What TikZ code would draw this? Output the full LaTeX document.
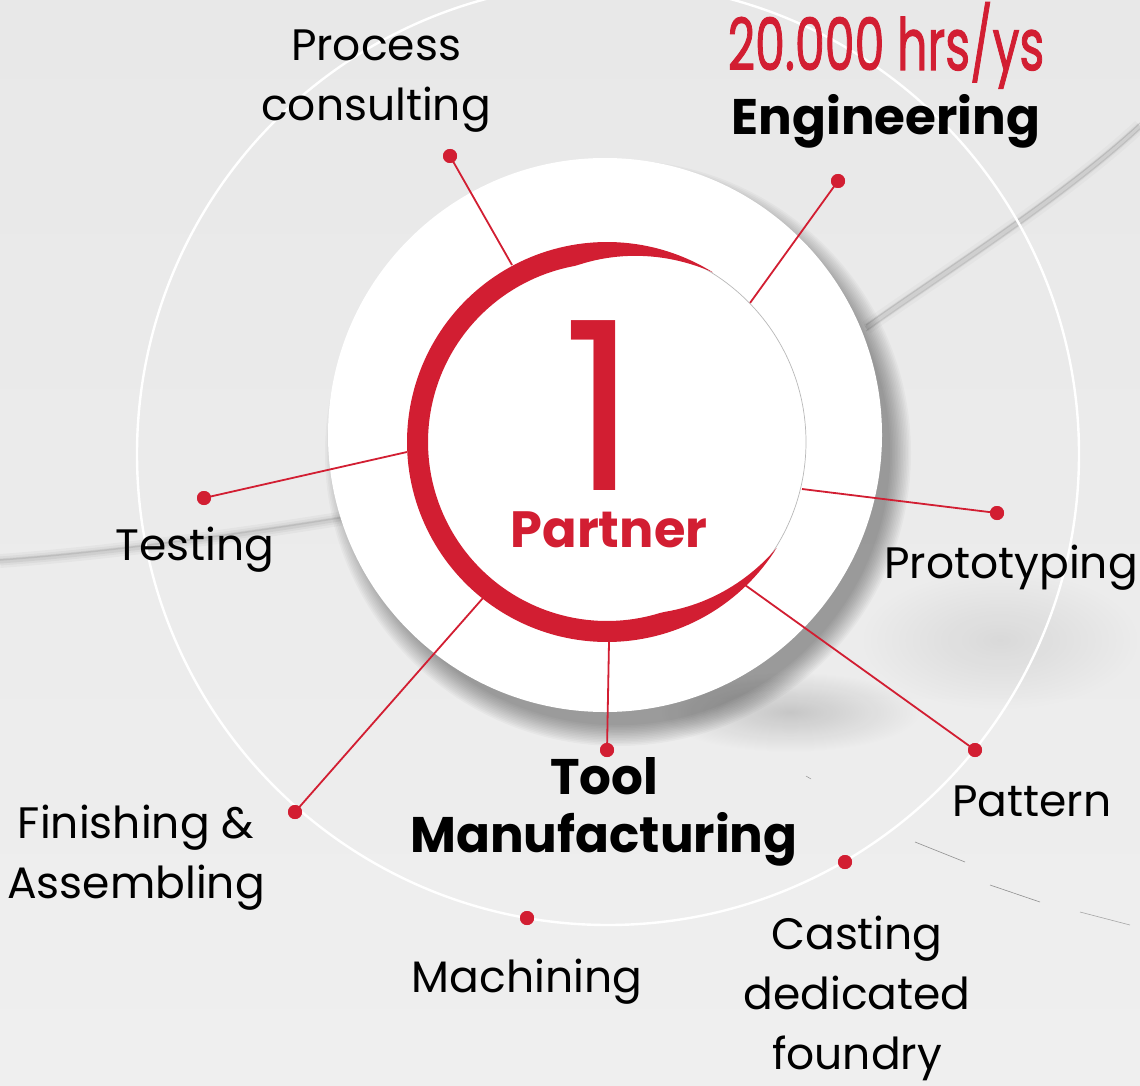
\documentclass[tikz,border=0pt]{standalone}
\usepackage{fontspec}
\setmainfont{Poppins}
\usepackage{graphicx}
\usetikzlibrary{fadings}
\definecolor{brandred}{RGB}{210,30,50}
\definecolor{bgtop}{RGB}{232,232,232}
\definecolor{bgbot}{RGB}{239,239,239}
\tikzfading[name=softblob, inner color=transparent!0, outer color=transparent!100]
\begin{document}
\begin{tikzpicture}[x=1pt,y=-1pt,
  spoke/.style={brandred, line width=1.8pt},
  dotm/.style={circle, fill=brandred, inner sep=0, minimum size=14pt},
  lbl/.style={inner sep=0, align=center, font=\fontsize{44}{60}\selectfont, text=black},
  blbl/.style={inner sep=0, align=center, font=\fontsize{50}{58}\selectfont\bfseries, text=black}]
\useasboundingbox (0,0) rectangle (1140,1086);
\shade[top color=bgtop, bottom color=bgbot] (0,0) rectangle (1140,1086);
% background swooshes
\foreach \w/\o in {14/.03,9/.04,5/.05} \draw[black, line width=\w pt, opacity=\o] (0,561) .. controls (110,553) and (240,535) .. (345,518);
\draw[black, line width=1.5pt, opacity=.08] (0,560) .. controls (110,552) and (240,534) .. (345,517);
\foreach \w/\o in {14/.025,8/.035,4/.05} \draw[black, line width=\w pt, opacity=\o] (866,328) .. controls (940,275) and (1060,200) .. (1140,126);
\draw[black, line width=1.2pt, opacity=.12] (866,325) .. controls (940,272) and (1060,197) .. (1140,123);
\draw[black, line width=1.2pt, opacity=.10] (866,331) .. controls (940,278) and (1060,203) .. (1140,129);
\fill[black, opacity=.16, path fading=softblob] (790,712) ellipse (130 and 40);
\fill[black, opacity=.08, path fading=softblob] (1000,640) ellipse (140 and 70);
\draw[black, line width=0.6pt, opacity=.4] (915,842) -- (965,862);
\draw[black, line width=0.6pt, opacity=.4] (990,885) -- (1040,902);
\draw[black, line width=0.6pt, opacity=.3] (1080,912) -- (1130,925);
\draw[black, line width=0.5pt, opacity=.4] (806,776) -- (811,779);
% outer ring
\draw[white, line width=2.4pt] (608,454) circle (471);
% shadow of the white disc
\foreach \i in {0,...,13} \fill[black, opacity=0.026] (618,453) circle ({293-\i*1.6});
\fill[white] (605,435) circle (277);
% coordinates on the ring
\coordinate (e1) at (512,265);
\coordinate (e2) at (750,303);
\coordinate (e3) at (407,452);
\coordinate (e4) at (802,489);
\coordinate (e5) at (483,598);
\coordinate (e6) at (609,642);
\coordinate (e7) at (745,585);
% dots
\node[dotm] (d1) at (450,156) {};
\node[dotm] (d2) at (838,181) {};
\node[dotm] (d3) at (204,498) {};
\node[dotm] (d4) at (997,513) {};
\node[dotm] (d5) at (295,812) {};
\node[dotm] (d6) at (607,750) {};
\node[dotm] (d7) at (975,750) {};
\node[dotm] (d8) at (845,862) {};
\node[dotm] (d9) at (527,918) {};
\foreach \a/\b in {d1/e1,d2/e2,d3/e3,d4/e4,d5/e5,d6/e6,d7/e7} \draw[spoke] (\a.center) -- (\b);
% red brush ring
\begin{scope}[shift={(607,442)}]
\draw[gray!55, line width=0.7pt] (0,0) circle (199);
\fill[brandred] plot[domain=32:302,samples=160] (\x:200) -- plot[domain=302:32,samples=160] (\x:{200-21*min(1,(\x-32)/40)*min(1,(302-\x)/42)}) -- cycle;
\end{scope}
% redraw dots on top
\foreach \n in {d1,d2,d3,d4,d5,d6,d7,d8,d9} \fill[brandred] (\n) circle (7);
% texts
\node[text=brandred, inner sep=0, anchor=base, text depth=0pt, font=\fontsize{235}{235}\selectfont] (one) at (600,490) {1};
\node[text=brandred, inner sep=0, anchor=base, font=\fontsize{51}{51}\selectfont\bfseries] (partner) at (609,547) {Partner};
\node[text=brandred, inner sep=0, anchor=base, font=\fontsize{72}{72}\selectfont] (hrs) at (886,70) {\scalebox{0.66}[1]{\addfontfeature{FakeBold=1.6}20.000 hrs/ys}};
\node[blbl, anchor=base] (eng) at (886,135) {Engineering};
\node[lbl, anchor=north] (proc) at (376,30) {Process\\consulting};
\node[lbl, anchor=base] (test) at (195,560) {Testing};
\node[lbl, anchor=base] (proto) at (1011,578) {Prototyping};
\node[blbl, anchor=north] (tool) at (604,757) {Tool\\Manufacturing};
\node[lbl, anchor=base] (patt) at (1032,816) {Pattern};
\node[lbl, anchor=north] (fin) at (136,805) {Finishing \&\\Assembling};
\node[lbl, anchor=base] (mach) at (527,992) {Machining};
\node[lbl, anchor=north] (cast) at (857,916) {Casting\\dedicated\\foundry};
\end{tikzpicture}
\end{document}
